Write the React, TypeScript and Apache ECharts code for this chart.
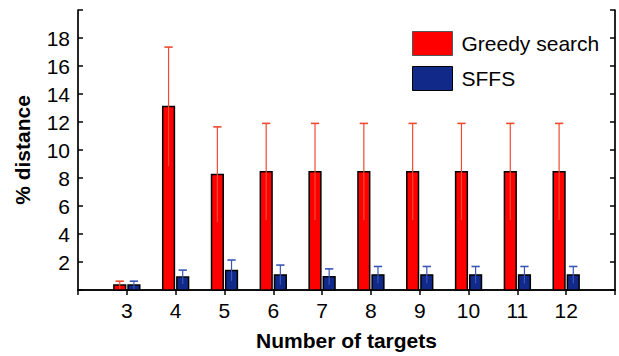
import React, { useEffect, useRef } from "react";
import * as echarts from "echarts";

const targets = [3, 4, 5, 6, 7, 8, 9, 10, 11, 12];
const greedyMean = [0.35, 13.1, 8.25, 8.45, 8.45, 8.45, 8.45, 8.45, 8.45, 8.45];
const greedyErr = [0.28, 4.25, 3.4, 3.45, 3.45, 3.45, 3.45, 3.45, 3.45, 3.45];
const sffsMean = [0.35, 0.92, 1.39, 1.08, 0.94, 1.08, 1.08, 1.08, 1.08, 1.08];
const sffsErr = [0.28, 0.5, 0.75, 0.7, 0.57, 0.6, 0.6, 0.6, 0.6, 0.6];
const seriesNames = ["Greedy search", "SFFS"];

const FONT = "'Liberation Sans', Arial, sans-serif";
const RED = "#ff0000";
const BLUE = "#112a8a";
const RED_ERR = "#f04a30";
const BLUE_ERR = "#3a55b8";

function makeRender(side: number, fill: string, errColor: string) {
  return (params: any, api: any) => {
    const x = api.value(0);
    const y = api.value(1);
    const e = api.value(2);
    const w = api.size([1, 0])[0];
    const barW = w * 0.24;
    const gap = w * 0.05;
    const base = api.coord([x, 0]);
    const top = api.coord([x, y]);
    const x0 = side < 0 ? base[0] - gap / 2 - barW : base[0] + gap / 2;
    const cx = x0 + barW / 2;
    const hi = api.coord([x, y + e])[1];
    const lo = api.coord([x, Math.max(0, y - e)])[1];
    const cap = w * 0.085;
    return {
      type: "group",
      children: [
        {
          type: "rect",
          shape: { x: x0, y: top[1], width: barW, height: base[1] - top[1] },
          style: { fill, stroke: "#000", lineWidth: 1.5 },
        },
        {
          type: "line",
          shape: { x1: cx, y1: lo, x2: cx, y2: hi },
          style: { stroke: errColor, lineWidth: 1.2 },
        },
        {
          type: "line",
          shape: { x1: cx - cap, y1: hi, x2: cx + cap, y2: hi },
          style: { stroke: errColor, lineWidth: 1.6 },
        },
      ],
    };
  };
}

export default function App() {
  const ref = useRef<HTMLDivElement>(null);
  useEffect(() => {
    if (!ref.current) return;
    const chart = echarts.init(ref.current, null, { renderer: "svg" });
    const axisLine = { show: true, lineStyle: { color: "#000", width: 1.7 } };
    const option: any = {
      animation: false,
      backgroundColor: "#fff",
      textStyle: { fontFamily: FONT },
      grid: { left: 78, top: 10, right: 4, bottom: 63, containLabel: false },
      legend: {
        orient: "vertical",
        left: 412,
        top: 31,
        itemWidth: 40,
        itemGap: 10,
        itemHeight: 24,
        padding: 0,
        textStyle: { fontSize: 21, color: "#000", fontFamily: FONT, padding: [0, 0, 0, 4] },
        data: [
          { name: seriesNames[0], icon: "rect", itemStyle: { color: RED, borderColor: "#555", borderWidth: 1 } },
          { name: seriesNames[1], icon: "rect", itemStyle: { color: BLUE, borderColor: "#000", borderWidth: 1 } },
        ],
      },
      xAxis: [
        {
          type: "value",
          min: 2,
          max: 13,
          interval: 1,
          position: "bottom",
          name: "Number of targets",
          nameLocation: "middle",
          nameGap: 40,
          nameTextStyle: { fontSize: 21, fontWeight: "bold", color: "#000", fontFamily: FONT },
          axisLine,
          axisTick: { show: false },
          splitLine: { show: false },
          axisLabel: {
            fontSize: 21,
            color: "#000",
            margin: 10,
            fontFamily: FONT,
            formatter: (v: number) => (targets.indexOf(v) >= 0 ? String(v) : ""),
          },
        },
        {
          type: "value",
          min: 2,
          max: 13,
          interval: 1,
          position: "top",
          axisLine,
          axisTick: {
            show: true,
            inside: true,
            length: 5,
            lineStyle: { color: "#000", width: 1.5 },
          },
          axisLabel: { show: false },
          splitLine: { show: false },
        },
      ],
      yAxis: [
        {
          type: "value",
          min: 0,
          max: 20,
          interval: 2,
          position: "left",
          name: "% distance",
          nameLocation: "middle",
          nameGap: 45,
          nameTextStyle: { fontSize: 21, fontWeight: "bold", color: "#000", fontFamily: FONT },
          axisLine,
          axisTick: { show: true, inside: true, length: 5, lineStyle: { color: "#000", width: 1.5 } },
          axisLabel: {
            fontSize: 21,
            color: "#000",
            margin: 8,
            fontFamily: FONT,
            formatter: (v: number) => (v === 0 || v === 20 ? "" : String(v)),
          },
          splitLine: { show: false },
        },
        {
          type: "value",
          min: 0,
          max: 20,
          interval: 2,
          position: "right",
          axisLine,
          axisTick: { show: true, inside: true, length: 5, lineStyle: { color: "#000", width: 1.5 } },
          axisLabel: { show: false },
          splitLine: { show: false },
        },
      ],
      series: [
        {
          name: seriesNames[0],
          type: "custom",
          xAxisIndex: 0,
          yAxisIndex: 0,
          itemStyle: { color: RED },
          encode: { x: 0, y: 1 },
          renderItem: makeRender(-1, RED, RED_ERR),
          data: targets.map((t, i) => [t, greedyMean[i], greedyErr[i]]),
        },
        {
          name: seriesNames[1],
          type: "custom",
          xAxisIndex: 0,
          yAxisIndex: 0,
          itemStyle: { color: BLUE },
          encode: { x: 0, y: 1 },
          renderItem: makeRender(1, BLUE, BLUE_ERR),
          data: targets.map((t, i) => [t, sffsMean[i], sffsErr[i]]),
        },
      ],
    };
    chart.setOption(option);
    return () => chart.dispose();
  }, []);
  return (
    <div
      ref={ref}
      style={{ position: "fixed", left: 0, top: 0, width: 619, height: 356, background: "#fff" }}
    />
  );
}
